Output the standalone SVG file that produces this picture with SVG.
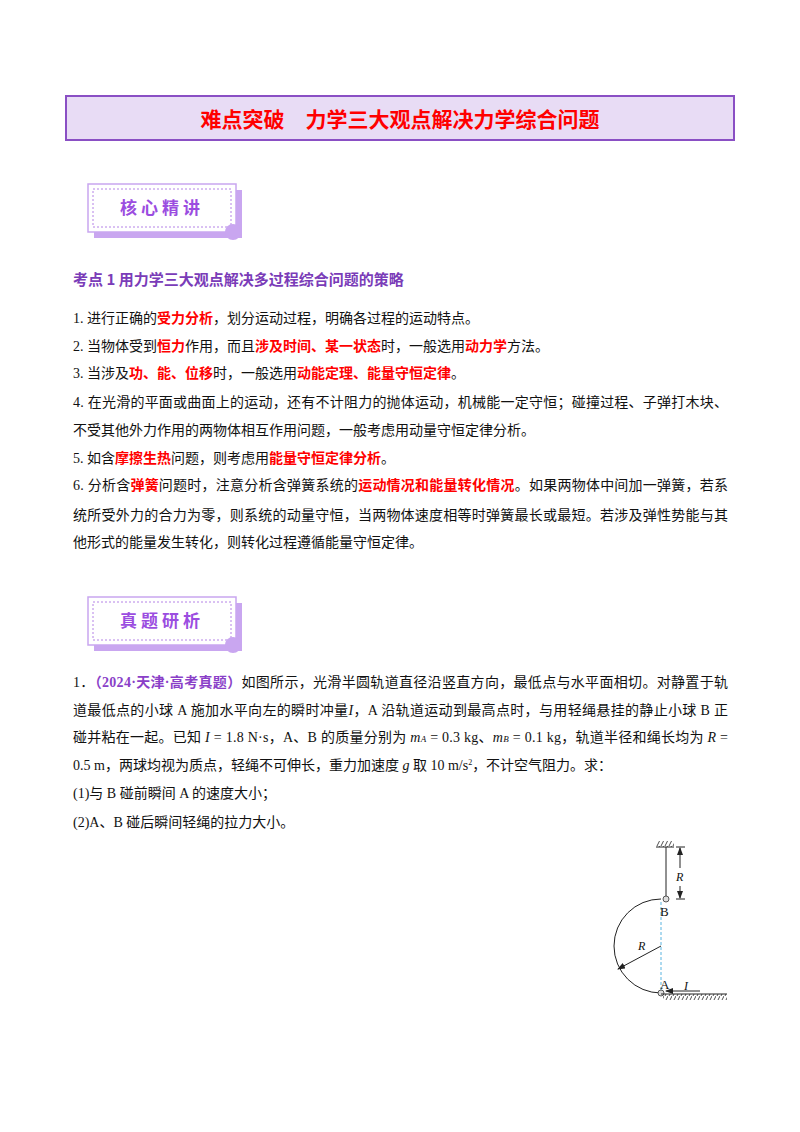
<svg xmlns="http://www.w3.org/2000/svg" width="800" height="1132" viewBox="0 0 800 1132">
<style>
.t{font-family:"Liberation Serif","Noto Sans CJK SC",serif;font-size:14px;fill:#111}
.r{fill:#f00;font-weight:bold}
.p{fill:#8a3fc8}
.tag{font-family:"Noto Sans CJK SC",sans-serif;font-size:17px;font-weight:bold;fill:#9b4de0;letter-spacing:4px}
.ln{stroke:#222;stroke-width:1;fill:none}
.it{font-family:"Liberation Serif",serif;font-style:italic;font-size:12px;fill:#111}
.lb{font-family:"Liberation Serif",serif;font-size:13px;fill:#111}
</style>
<defs>
<marker id="ah" markerWidth="8" markerHeight="6" refX="7" refY="3" orient="auto" markerUnits="userSpaceOnUse"><path d="M0,0 L8,3 L0,6 Z" fill="#222"/></marker>
<pattern id="hatch" width="4" height="6" patternUnits="userSpaceOnUse"><path d="M4,0 L1,6" stroke="#222" stroke-width="0.8"/></pattern>
<g id="tagbox">
<rect x="6" y="6" width="148" height="48" fill="#c9a6f0"/>
<rect x="0" y="0" width="148" height="48" fill="#fff" stroke="#c9a6f0" stroke-width="1.5"/>
<rect x="5" y="5" width="138" height="38" fill="none" stroke="#b482e6" stroke-width="1" stroke-dasharray="2,2"/>
<circle cx="145" cy="48" r="8" fill="#c9a6f0"/>
</g>
</defs>
<g id="title">
<rect x="66" y="96" width="668" height="44" fill="#e8dcf5" stroke="#8a4fc4" stroke-width="2"/>
<text x="400" y="127" text-anchor="middle" font-family="Noto Sans CJK SC,sans-serif" font-size="21" font-weight="bold" fill="#f00">难点突破　力学三大观点解决力学综合问题</text>
</g>
<g id="tag1">
<use href="#tagbox" x="88" y="184"/>
<text class="tag" x="162" y="214" text-anchor="middle">核心精讲</text>
</g>
<g id="section1">
<text x="73" y="285" font-family="Noto Sans CJK SC,sans-serif" font-size="15" font-weight="bold" fill="#7a3cb8">考点 1  用力学三大观点解决多过程综合问题的策略</text>
<text class="t" x="73" y="323">1.  进行正确的<tspan class="r">受力分析</tspan>，划分运动过程，明确各过程的运动特点。</text>
<text class="t" x="73" y="351">2.  当物体受到<tspan class="r">恒力</tspan>作用，而且<tspan class="r">涉及时间、某一状态</tspan>时，一般选用<tspan class="r">动力学</tspan>方法。</text>
<text class="t" x="73" y="378">3.  当涉及<tspan class="r">功、能、位移</tspan>时，一般选用<tspan class="r">动能定理、能量守恒定律</tspan>。</text>
<text class="t" x="73" y="407" textLength="655" lengthAdjust="spacing">4.  在光滑的平面或曲面上的运动，还有不计阻力的抛体运动，机械能一定守恒；碰撞过程、子弹打木块、</text>
<text class="t" x="73" y="435">不受其他外力作用的两物体相互作用问题，一般考虑用动量守恒定律分析。</text>
<text class="t" x="73" y="463">5.  如含<tspan class="r">摩擦生热</tspan>问题，则考虑用<tspan class="r">能量守恒定律分析</tspan>。</text>
<text class="t" x="73" y="490" textLength="655" lengthAdjust="spacing">6.  分析含<tspan class="r">弹簧</tspan>问题时，注意分析含弹簧系统的<tspan class="r">运动情况和能量转化情况</tspan>。如果两物体中间加一弹簧，若系</text>
<text class="t" x="73" y="520" textLength="655" lengthAdjust="spacing">统所受外力的合力为零，则系统的动量守恒，当两物体速度相等时弹簧最长或最短。若涉及弹性势能与其</text>
<text class="t" x="73" y="547">他形式的能量发生转化，则转化过程遵循能量守恒定律。</text>
</g>
<g id="tag2">
<use href="#tagbox" x="88" y="597"/>
<text class="tag" x="162" y="627" text-anchor="middle">真题研析</text>
</g>
<g id="problem">
<text class="t" x="73" y="687" textLength="655" lengthAdjust="spacing">1．<tspan class="p" font-weight="bold">（2024·天津·高考真题）</tspan>如图所示，光滑半圆轨道直径沿竖直方向，最低点与水平面相切。对静置于轨</text>
<text class="t" x="73" y="715" textLength="655" lengthAdjust="spacing">道最低点的小球 A 施加水平向左的瞬时冲量<tspan font-style="italic">I</tspan>，A 沿轨道运动到最高点时，与用轻绳悬挂的静止小球 B 正</text>
<text class="t" x="73" y="742" textLength="655" lengthAdjust="spacing">碰并粘在一起。已知 <tspan font-style="italic">I</tspan> = 1.8 N·s，A、B 的质量分别为 <tspan font-style="italic">m</tspan><tspan font-size="9" font-style="italic">A</tspan> = 0.3 kg、<tspan font-style="italic">m</tspan><tspan font-size="9" font-style="italic">B</tspan> = 0.1 kg，轨道半径和绳长均为 <tspan font-style="italic">R</tspan> =</text>
<text class="t" x="73" y="770">0.5 m，两球均视为质点，轻绳不可伸长，重力加速度 <tspan font-style="italic">g</tspan> 取 10 m/s<tspan font-size="8" dy="-5">2</tspan><tspan dy="5">，不计空气阻力。求：</tspan></text>
<text class="t" x="73" y="798">(1)与 B 碰前瞬间 A 的速度大小；</text>
<text class="t" x="73" y="827">(2)A、B 碰后瞬间轻绳的拉力大小。</text>
</g>
<g id="figure">
<rect x="656" y="841" width="18" height="6" fill="url(#hatch)"/>
<line class="ln" x1="656" y1="847" x2="674" y2="847"/>
<line class="ln" x1="666" y1="847" x2="666" y2="896"/>
<circle cx="666" cy="899" r="3" fill="#ddd" stroke="#333" stroke-width="0.8"/>
<path class="ln" d="M661,899 A47,47 0 0 0 661,993"/>
<line x1="661" y1="902" x2="661" y2="990" stroke="#5ab4e0" stroke-width="1" stroke-dasharray="3,2"/>
<circle cx="661" cy="993" r="3" fill="#ddd" stroke="#333" stroke-width="0.8"/>
<line class="ln" x1="661" y1="994" x2="727" y2="994"/>
<rect x="663" y="994" width="64" height="6" fill="url(#hatch)"/>
<line class="ln" x1="676" y1="847" x2="685" y2="847"/>
<line class="ln" x1="676" y1="899" x2="685" y2="899"/>
<line class="ln" x1="680" y1="868" x2="680" y2="848" marker-end="url(#ah)"/>
<line class="ln" x1="680" y1="886" x2="680" y2="898" marker-end="url(#ah)"/>
<text class="it" x="676" y="881">R</text>
<text class="lb" x="660" y="916">B</text>
<line class="ln" x1="661" y1="946" x2="618" y2="969" marker-end="url(#ah)"/>
<text class="it" x="638" y="950">R</text>
<text class="lb" x="660" y="989">A</text>
<line class="ln" x1="700" y1="991" x2="666" y2="991" marker-end="url(#ah)"/>
<text class="it" x="684" y="990">I</text>
</g>
</svg>
